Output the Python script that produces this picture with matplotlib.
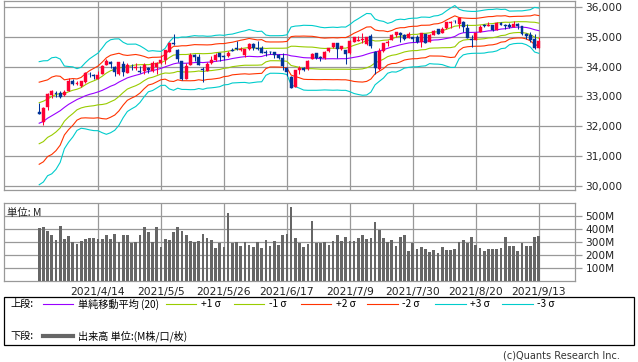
import matplotlib
matplotlib.use('Agg')
import matplotlib.pyplot as plt
import numpy as np
import pandas as pd
from matplotlib.lines import Line2D
from matplotlib.patches import Rectangle

# 営業日 (米国休場日を除く)
holidays = ['2021-04-02', '2021-05-31', '2021-07-05', '2021-09-06']
tick_labels = ['2021/4/14', '2021/5/5', '2021/5/26', '2021/6/17',
               '2021/7/9', '2021/7/30', '2021/8/20', '2021/9/13']

# ボリンジャー計算用 (3/24より前の終値 19本)
prior_closes = [31402, 30932, 31535, 31391, 31270, 30924, 31496, 31802, 31833, 32297,
                32485, 32779, 32953, 32826, 33015, 32862, 32628, 32731, 32423]

opens = [32480, 32150, 32630, 33030, 33100, 33100, 33030, 33180, 33500, 33430,
         33350, 33490, 33760, 33710, 33600, 33750, 34050, 34140, 34000, 33750,
         34100, 33800, 34000, 33940, 33860, 33840, 33950, 33840, 34000, 34110,
         34210, 34500, 34800, 34550, 34190, 33600, 34050, 34400, 34330, 33920,
         33860, 34110, 34220, 34440, 34350, 34360, 34560, 34620, 34560, 34380,
         34580, 34760, 34640, 34620, 34480, 34490, 34480, 34400, 34300, 33960,
         33660, 33310, 33880, 33950, 33910, 34260, 34440, 34310, 34280, 34520,
         34650, 34780, 34590, 34560, 34440, 34830, 34870, 34900, 34760, 35020,
         34490, 33920, 34520, 34800, 34900, 35050, 35140, 35050, 34950, 34980,
         34980, 34830, 35080, 34840, 35070, 35260, 35130, 35280, 35450, 35540,
         35440, 35500, 35290, 34930, 34890, 35170, 35380, 35370, 35390, 35230,
         35460, 35390, 35380, 35330, 35420, 35370, 35100, 35050, 34940, 34630]
highs = [32790, 32640, 33100, 33210, 33180, 33170, 33200, 33620, 33600, 33530,
         33520, 33810, 33830, 33740, 33860, 34050, 34260, 34190, 34010, 34150,
         34200, 34110, 34070, 34110, 34020, 34110, 33980, 34200, 34160, 34380,
         34560, 34840, 35091, 34580, 34200, 34110, 34440, 34420, 34420, 34000,
         34150, 34350, 34440, 34450, 34400, 34520, 34630, 34850, 34650, 34590,
         34790, 34800, 34850, 34700, 34560, 34530, 34490, 34430, 34450, 33990,
         33700, 33890, 34030, 34000, 34220, 34460, 34460, 34350, 34530, 34640,
         34800, 34800, 34700, 34570, 34900, 35000, 35030, 35140, 35000, 35090,
         34520, 34610, 34800, 34890, 35100, 35170, 35150, 35080, 35170, 35000,
         35070, 35130, 35100, 35080, 35220, 35270, 35330, 35510, 35520, 35560,
         35630, 35520, 35440, 35060, 35150, 35400, 35440, 35510, 35410, 35510,
         35500, 35420, 35470, 35530, 35450, 35370, 35140, 35150, 35080, 34990]
lows = [32400, 32040, 32540, 32930, 32980, 32960, 33000, 33170, 33370, 33380,
        33330, 33460, 33660, 33580, 33590, 33740, 34040, 33960, 33700, 33730,
        33700, 33780, 33880, 33900, 33780, 33760, 33770, 33830, 33760, 34100,
        34070, 34480, 34720, 34170, 33560, 33580, 34040, 34200, 34040, 33470,
        33850, 34090, 34200, 34180, 34230, 34330, 34510, 34540, 34520, 34330,
        34570, 34560, 34560, 34440, 34360, 34410, 34300, 34260, 33880, 33700,
        33270, 33300, 33750, 33840, 33900, 34240, 34250, 34200, 34270, 34500,
        34640, 34300, 34550, 34100, 34430, 34810, 34860, 34800, 34740, 34640,
        33740, 33900, 34500, 34700, 34880, 35000, 34830, 34900, 34950, 34840,
        34800, 34650, 34780, 34830, 35060, 35080, 35120, 35270, 35300, 35470,
        35280, 35160, 34950, 34660, 34880, 35160, 35320, 35360, 35200, 35220,
        35380, 35250, 35290, 35320, 35270, 35070, 34940, 34830, 34590, 34620]
closes = [32420, 32619, 33072, 33171, 33066, 32982, 33153, 33527, 33430, 33446,
          33503, 33801, 33745, 33677, 33730, 34036, 34200, 34078, 33821, 34137,
          33815, 34043, 33981, 33985, 33820, 34060, 33875, 34113, 34133, 34230,
          34548, 34778, 34742, 34270, 33587, 34021, 34382, 34327, 34060, 33896,
          34084, 34208, 34394, 34312, 34323, 34465, 34529, 34575, 34600, 34577,
          34756, 34630, 34600, 34447, 34467, 34480, 34394, 34299, 34033, 33823,
          33290, 33877, 33945, 33874, 34196, 34433, 34283, 34292, 34503, 34633,
          34786, 34577, 34681, 34421, 34870, 34996, 34889, 34933, 34987, 34687,
          33962, 34512, 34798, 34823, 35062, 35144, 35059, 34931, 35085, 34935,
          34838, 35117, 34793, 35065, 35209, 35102, 35265, 35485, 35500, 35516,
          35626, 35343, 34961, 34894, 35120, 35336, 35367, 35406, 35214, 35456,
          35400, 35361, 35313, 35444, 35370, 35100, 35031, 34879, 34608, 34870]
# 出来高 (M)
volume = [410, 418, 387, 356, 318, 425, 325, 348, 302, 287,
          308, 325, 333, 333, 325, 325, 356, 325, 364, 302,
          356, 356, 295, 302, 356, 418, 379, 302, 418, 264,
          325, 318, 379, 418, 387, 356, 310, 302, 310, 364,
          333, 318, 256, 295, 264, 525, 295, 302, 272, 302,
          279, 264, 302, 256, 318, 272, 310, 279, 356, 364,
          572, 333, 295, 264, 287, 464, 290, 295, 300, 282,
          310, 356, 310, 341, 310, 310, 333, 356, 325, 333,
          456, 397, 333, 302, 318, 272, 341, 356, 233, 290,
          249, 264, 249, 226, 241, 218, 264, 241, 241, 249,
          302, 318, 297, 341, 279, 256, 233, 249, 249, 249,
          256, 341, 272, 272, 233, 295, 272, 272, 341, 348]

dates = pd.bdate_range('2021-03-24', '2021-09-13')
dates = dates[~dates.isin(pd.to_datetime(holidays))]
date_str = [f'{d.year}/{d.month}/{d.day}' for d in dates]
tick_pos = [date_str.index(t) for t in tick_labels]

# ボリンジャーバンド (20日, 母標準偏差)
allc = pd.Series(prior_closes + closes, dtype=float)
sma = allc.rolling(20).mean().iloc[len(prior_closes):].to_numpy()
sd = allc.rolling(20).std(ddof=0).iloc[len(prior_closes):].to_numpy()

W, H = 638, 362
fig = plt.figure(figsize=(W / 100, H / 100), dpi=100)
plt.rcParams['font.family'] = ['DejaVu Sans', 'Noto Sans CJK JP']
jp = ['Noto Sans CJK JP', 'DejaVu Sans']

def fx(x):
    return x / W

def fy(y):
    return 1 - y / H

grid_c = '#999999'
x = np.arange(len(closes))
xlim = (-8.5, 127.5)

ax = fig.add_axes([fx(3.5), fy(190), fx(574.5) - fx(3.5), fy(0.7) - fy(190)])
axv = fig.add_axes([fx(3.5), fy(281), fx(574.5) - fx(3.5), fy(202.7) - fy(281)])

band_colors = {1: '#99cc00', 2: '#ff3300', 3: '#00cccc'}
for n, c in band_colors.items():
    ax.plot(x, sma + n * sd, color=c, lw=0.8, zorder=2)
    ax.plot(x, sma - n * sd, color=c, lw=0.8, zorder=2)
ax.plot(x, sma, color='#9900ff', lw=0.8, zorder=2)

o = np.array(opens)
c = np.array(closes)
up = c >= o
col = np.where(up, '#ff0033', '#003399')
ax.vlines(x, lows, highs, colors=col, lw=0.75, zorder=3)
body = np.abs(c - o)
body = np.maximum(body, 12)
ax.bar(x, body, bottom=np.minimum(o, c), width=0.7, color=col,
       edgecolor=col, lw=0.3, zorder=4)

ax.set_xlim(xlim)
ax.set_ylim(29860, 36210)
ax.set_yticks([30000, 31000, 32000, 33000, 34000, 35000, 36000])
ax.set_yticklabels([f'{v:,}' for v in range(30000, 37000, 1000)])
ax.set_xticks(tick_pos)
ax.set_xticklabels([])

axv.bar(x, volume, width=0.65, color='#666666', zorder=3)
axv.set_xlim(xlim)
axv.set_ylim(0, 605)
axv.set_yticks([100, 200, 300, 400, 500])
axv.set_yticklabels([f'{v}M' for v in [100, 200, 300, 400, 500]])
axv.set_xticks(tick_pos)
axv.set_xticklabels(tick_labels)
axv.text(0.006, 0.93, '単位: M', transform=axv.transAxes, fontsize=7.5,
         family=jp, va='top', ha='left', color='#222222')

for a in (ax, axv):
    a.grid(True, color=grid_c, lw=0.9, zorder=0)
    a.set_axisbelow(True)
    for s in a.spines.values():
        s.set_color(grid_c)
        s.set_linewidth(0.9)
    a.yaxis.tick_right()
    a.tick_params(axis='y', length=5, width=0.9, color=grid_c, pad=3,
                  labelsize=7.6, labelcolor='#222222')
    a.tick_params(axis='x', length=0, pad=4, labelsize=7.7, labelcolor='#222222')

# 凡例
fig.add_artist(Rectangle((fx(3.5), fy(345)), fx(634) - fx(3.5), fy(297) - fy(345),
                         transform=fig.transFigure, fill=False, ec='black', lw=0.9))
r1, r2 = 304, 336
fig.text(fx(10), fy(r1), '上段:', fontsize=7.3, family=jp, va='center')
fig.text(fx(10), fy(r2), '下段:', fontsize=7.3, family=jp, va='center')
legend_items = [
    (43, 73, '#9900ff', 78, '単純移動平均 (20)'),
    (166, 196, '#99cc00', 201, '+1 σ'),
    (234, 264, '#99cc00', 269, '-1 σ'),
    (301, 331, '#ff3300', 336, '+2 σ'),
    (367, 398, '#ff3300', 402, '-2 σ'),
    (435, 466, '#00cccc', 470, '+3 σ'),
    (502, 533, '#00cccc', 537, '-3 σ'),
]
for x0, x1, lc, tx, label in legend_items:
    fig.add_artist(Line2D([fx(x0), fx(x1)], [fy(r1), fy(r1)], transform=fig.transFigure,
                          color=lc, lw=0.8))
    fig.text(fx(tx), fy(r1), label, fontsize=7.3, family=jp, va='center')
fig.add_artist(Line2D([fx(43), fx(73)], [fy(r2), fy(r2)], transform=fig.transFigure,
                      color='#666666', lw=3.0))
fig.text(fx(78), fy(r2), '出来高 単位:(M株/口/枚)', fontsize=7.3, family=jp, va='center')

fig.text(fx(620), fy(356), '(c)Quants Research Inc.', fontsize=7, ha='right',
         va='center', color='#333333')

fig.savefig('out.png', dpi=100)
